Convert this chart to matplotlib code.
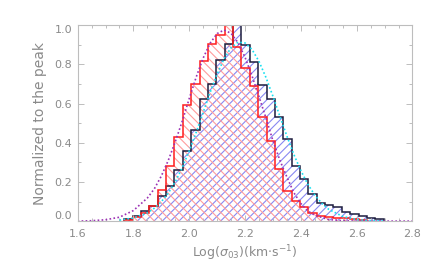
import numpy as np
import matplotlib
matplotlib.use('Agg')
import matplotlib.pyplot as plt
from matplotlib.ticker import MultipleLocator


# bin edges of the two histograms (width 0.03)
edges = [1.767, 1.797, 1.827, 1.857, 1.887, 1.917, 1.947, 1.977, 2.007, 2.037,
         2.067, 2.097, 2.127, 2.157, 2.187, 2.217, 2.247, 2.277, 2.307, 2.337,
         2.367, 2.397, 2.427, 2.457, 2.487, 2.517, 2.547, 2.577, 2.607, 2.637,
         2.667, 2.697]

# black/blue histogram, normalized to the peak
black_hist = [0.012, 0.025, 0.05, 0.075, 0.13, 0.18, 0.26, 0.36, 0.465, 0.625,
              0.70, 0.82, 0.905, 1.0, 0.90, 0.81, 0.695, 0.625, 0.53, 0.42,
              0.28, 0.213, 0.14, 0.094, 0.082, 0.07, 0.048, 0.035, 0.024, 0.017,
              0.012]

# red histogram, normalized to the peak
red_hist = [0.008, 0.02, 0.04, 0.075, 0.16, 0.28, 0.43, 0.59, 0.70, 0.815,
            0.905, 0.95, 1.0, 0.89, 0.78, 0.69, 0.53, 0.41, 0.265, 0.155,
            0.105, 0.07, 0.04, 0.025, 0.02, 0.015, 0.015, 0.012, 0.008]

# purple dotted fit (to the red histogram)
purple_x = [1.60, 1.65, 1.70, 1.75, 1.80, 1.85, 1.875, 1.90, 1.925, 1.95,
            1.975, 2.00, 2.025, 2.05, 2.075, 2.10, 2.125, 2.15, 2.175, 2.20,
            2.225, 2.25, 2.275, 2.30, 2.325, 2.35, 2.375, 2.40, 2.425, 2.45,
            2.50, 2.55, 2.60, 2.70, 2.80]
purple_y = [0.0, 0.002, 0.007, 0.02, 0.054, 0.118, 0.165, 0.23, 0.31, 0.405,
            0.51, 0.625, 0.735, 0.832, 0.908, 0.957, 0.975, 0.958, 0.91, 0.836,
            0.741, 0.635, 0.526, 0.41, 0.31, 0.225, 0.145, 0.09, 0.052, 0.03,
            0.008, 0.002, 0.0, 0.0, 0.0]

# cyan dotted fit (to the black histogram)
cyan_x = [1.75, 1.80, 1.85, 1.875, 1.90, 1.925, 1.95, 1.975, 2.00, 2.025,
          2.05, 2.075, 2.10, 2.125, 2.15, 2.175, 2.20, 2.225, 2.25, 2.275,
          2.30, 2.325, 2.35, 2.375, 2.40, 2.425, 2.45, 2.475, 2.50, 2.55,
          2.60, 2.65, 2.70]
cyan_y = [0.005, 0.016, 0.042, 0.066, 0.099, 0.143, 0.201, 0.273, 0.358, 0.453,
          0.555, 0.657, 0.750, 0.829, 0.885, 0.913, 0.909, 0.876, 0.815, 0.733,
          0.637, 0.534, 0.434, 0.340, 0.258, 0.188, 0.133, 0.091, 0.060, 0.024,
          0.008, 0.0025, 0.0007]

xticks = [1.6, 1.8, 2.0, 2.2, 2.4, 2.6, 2.8]
yticks = [0.0, 0.2, 0.4, 0.6, 0.8, 1.0]

gray_txt = '#8a8a8a'
gray_axis = '#bdbdbd'

plt.rcParams['hatch.linewidth'] = 0.8
plt.rcParams['mathtext.fontset'] = 'dejavusans'

fig = plt.figure(figsize=(4.36, 2.73), dpi=100)
ax = fig.add_axes([0.178, 0.19, 0.768, 0.718])

# hatched fills
ax.stairs(black_hist, edges, fill=True, facecolor='none', edgecolor='#8888f2',
          hatch='////', linewidth=0)
ax.stairs(red_hist, edges[:len(red_hist) + 1], fill=True, facecolor='none',
          edgecolor='#ff9c9c', hatch='\\\\\\\\', linewidth=0)

# outlines
ax.stairs(black_hist, edges, color='#1c1c3e', linewidth=1.1)
ax.stairs(red_hist, edges[:len(red_hist) + 1], color='#ff1c1c', linewidth=1.1)

# fitted curves
ax.plot(cyan_x, cyan_y, linestyle=(0, (1, 1.4)), color='#18e0f0', linewidth=1.2)
ax.plot(purple_x, purple_y, linestyle=(0, (1, 1.4)), color='#9b30b4', linewidth=1.2)

ax.set_xlim(1.6, 2.8)
ax.set_ylim(0, 1.0)
ax.set_xticks(xticks)
ax.set_xticklabels(['%.1f' % v for v in xticks])
ax.set_yticks(yticks)
ax.set_yticklabels(['%.1f' % v for v in yticks])
ax.xaxis.set_minor_locator(MultipleLocator(0.05))
ax.yaxis.set_minor_locator(MultipleLocator(0.1))
ax.tick_params(which='both', direction='in', top=True, right=True,
               color=gray_axis, labelcolor=gray_txt, labelsize=8, width=0.7)
ax.tick_params(which='major', length=4)
ax.tick_params(which='minor', length=2.5)
ax.tick_params(axis='x', pad=6)
ax.tick_params(axis='y', pad=4)

ylabs = ax.get_yticklabels()
ylabs[0].set_va('bottom')
ylabs[-1].set_va('top')

for sp in ax.spines.values():
    sp.set_color(gray_axis)
    sp.set_linewidth(0.8)

ax.set_xlabel(r'Log($\sigma_{03}$)(km$\cdot$s$^{-1}$)', fontsize=9, color=gray_txt,
              labelpad=3)
ax.set_ylabel('Normalized to the peak', fontsize=10, color=gray_txt, labelpad=5)

fig.savefig('out.png', dpi=100)
